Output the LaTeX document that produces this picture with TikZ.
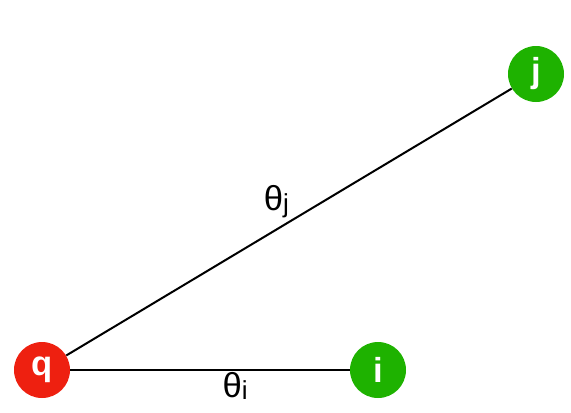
\documentclass[tikz,border=0pt]{standalone}
\usepackage{fontspec}
\setmainfont{Liberation Sans}
\definecolor{qred}{RGB}{238,32,16}
\definecolor{vgreen}{RGB}{30,178,0}
\newcommand{\sub}[1]{{\fontsize{19.5}{19.5}\selectfont\raisebox{-1.5pt}{#1}}}

\begin{document}
\begin{tikzpicture}[x=0.75pt,y=-0.75pt,
  vertex/.style={circle, minimum size=42pt, inner sep=0pt, text=white, font=\bfseries\fontsize{26}{26}\selectfont},
  angle/.style={font=\fontsize{26}{26}\selectfont, inner sep=1pt}]
  \useasboundingbox (0,0) rectangle (571,412);
  \node[vertex, fill=qred] (q) at (42,370) {q};
  \node[vertex, fill=vgreen] (i) at (378,370) {i};
  \node[vertex, fill=vgreen] (j) at (536,74) {j};
  \draw[line width=1.5pt] (q) -- node[angle, pos=0.505, anchor=south east] {θ\sub{j}} (j);
  \draw[line width=1.5pt] (q) -- node[angle, pos=0.59, anchor=north] {θ\sub{i}} (i);
\end{tikzpicture}
\end{document}
